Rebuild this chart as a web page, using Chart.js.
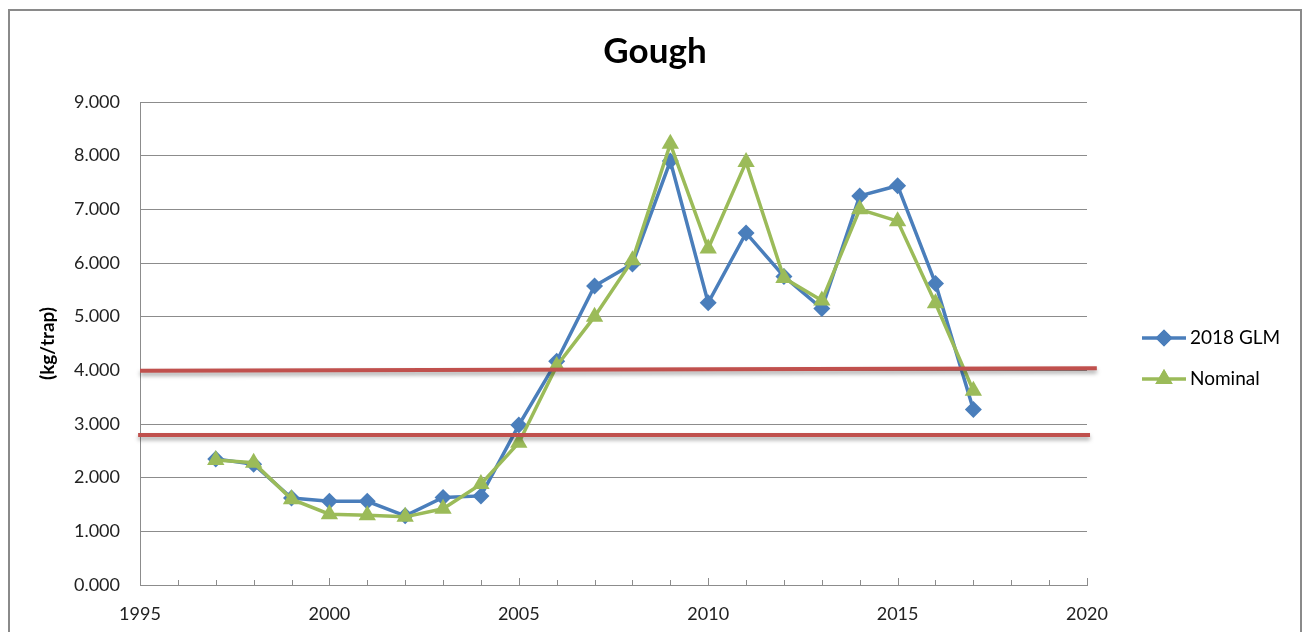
<!DOCTYPE html>
<html>
<head>
<meta charset="utf-8">
<title>Gough</title>
<script src="https://cdn.jsdelivr.net/npm/chart.js@4.4.0/dist/chart.umd.min.js"></script>
<style>
  html, body { margin: 0; padding: 0; background: #fff; }
  #wrap { width: 1309px; height: 632px; position: relative; }
</style>
</head>
<body>
<div id="wrap"><canvas id="chartGough" width="1309" height="632"></canvas></div>
<script>
/* ---- dados ---- */
const years = [1997, 1998, 1999, 2000, 2001, 2002, 2003, 2004, 2005, 2006, 2007,
  2008, 2009, 2010, 2011, 2012, 2013, 2014, 2015, 2016, 2017];
const glm = [2.35, 2.25, 1.62, 1.56, 1.56, 1.29, 1.63, 1.66, 2.98, 4.17, 5.57,
  5.98, 7.90, 5.26, 6.56, 5.75, 5.15, 7.25, 7.44, 5.62, 3.27];
const nominal = [2.33, 2.28, 1.60, 1.32, 1.30, 1.27, 1.42, 1.88, 2.65, 4.08, 5.00,
  6.05, 8.22, 6.27, 7.88, 5.72, 5.30, 7.00, 6.78, 5.25, 3.62];
const xTicks = [1995, 2000, 2005, 2010, 2015, 2020];
const yTicks = [0, 1, 2, 3, 4, 5, 6, 7, 8, 9];
// linhas de referência (desenhadas à mão no original)
const upperRefX = [1995, 2020.26];
const upperRefY = [3.99, 4.04];
const lowerRefX = [1994.95, 2020.08];
const lowerRefY = [2.795, 2.795];

const FONT = "Lato, 'Open Sans', sans-serif";
const GRID = "#8c8c8c";
const BLUE = "#4a7ebb";
const GREEN = "#9bbb59";
const RED = "#c0504d";

const toPoints = (xs, ys) => xs.map((x, i) => ({ x, y: ys[i] }));

// sombra nas linhas vermelhas
const shadowPlugin = {
  id: "shadow",
  beforeDatasetDraw(chart, args) {
    if (!args.meta._dataset.shadow) return;
    const ctx = chart.ctx;
    ctx.save();
    ctx.shadowColor = "rgba(0,0,0,0.35)";
    ctx.shadowBlur = 4;
    ctx.shadowOffsetY = 3;
  },
  afterDatasetDraw(chart, args) {
    if (!args.meta._dataset.shadow) return;
    chart.ctx.restore();
  },
};

// moldura, título, marcas do eixo x e legenda
const decorPlugin = {
  id: "decor",
  afterDraw(chart) {
    const ctx = chart.ctx;
    const xs = chart.scales.x;
    const bottom = chart.chartArea.bottom;
    ctx.save();

    // moldura externa
    ctx.strokeStyle = "#8a8a8a";
    ctx.lineWidth = 2;
    ctx.strokeRect(9, 10, 1292, 700);

    // título
    ctx.fillStyle = "#000";
    ctx.font = "bold 35px " + FONT;
    ctx.textAlign = "center";
    ctx.textBaseline = "middle";
    ctx.fillText("Gough", 655, 52);

    // marcas internas do eixo x (anos)
    ctx.strokeStyle = GRID;
    ctx.lineWidth = 1;
    for (let yr = 1995; yr <= 2020; yr++) {
      const px = Math.round(xs.getPixelForValue(yr)) + 0.5;
      const len = yr % 5 === 0 ? 7 : 5;
      ctx.beginPath();
      ctx.moveTo(px, bottom);
      ctx.lineTo(px, bottom - len);
      ctx.stroke();
    }

    // legenda
    const items = [
      { label: "2018 GLM", color: BLUE, style: "rectRot", r: 8.5, y: 338 },
      { label: "Nominal", color: GREEN, style: "triangle", r: 10, y: 379 },
    ];
    items.forEach((it) => {
      ctx.strokeStyle = it.color;
      ctx.lineWidth = 3.5;
      ctx.beginPath();
      ctx.moveTo(1142, it.y);
      ctx.lineTo(1186, it.y);
      ctx.stroke();
      ctx.fillStyle = it.color;
      Chart.helpers.drawPoint(ctx, { pointStyle: it.style, radius: it.r, rotation: 0, borderWidth: 0 }, 1164, it.y);
      ctx.fill();
      ctx.fillStyle = "#000";
      ctx.font = "19px " + FONT;
      ctx.textBaseline = "middle";
      ctx.textAlign = "left";
      ctx.fillText(it.label, 1190, it.y);
    });
    ctx.restore();
  },
};

new Chart(document.getElementById("chartGough"), {
  type: "line",
  data: {
    datasets: [
      {
        label: "upper",
        data: toPoints(upperRefX, upperRefY),
        borderColor: RED,
        borderWidth: 4,
        pointRadius: 0,
        clip: false,
        shadow: true,
        order: 0,
      },
      {
        label: "lower",
        data: toPoints(lowerRefX, lowerRefY),
        borderColor: RED,
        borderWidth: 4,
        pointRadius: 0,
        clip: false,
        shadow: true,
        order: 0,
      },
      {
        label: "Nominal",
        data: toPoints(years, nominal),
        borderColor: GREEN,
        backgroundColor: GREEN,
        borderWidth: 3.5,
        pointStyle: "triangle",
        pointRadius: 10,
        pointBorderWidth: 0,
        order: 1,
      },
      {
        label: "2018 GLM",
        data: toPoints(years, glm),
        borderColor: BLUE,
        backgroundColor: BLUE,
        borderWidth: 3.5,
        pointStyle: "rectRot",
        pointRadius: 8.5,
        pointBorderWidth: 0,
        order: 2,
      },
    ],
  },
  options: {
    responsive: false,
    animation: false,
    devicePixelRatio: 1,
    layout: { padding: { left: 0, right: 222, top: 102, bottom: 0 } },
    plugins: {
      legend: { display: false },
      tooltip: { enabled: false },
      title: { display: false },
    },
    scales: {
      x: {
        type: "linear",
        min: 1995,
        max: 2020,
        afterBuildTicks: (s) => { s.ticks = xTicks.map((v) => ({ value: v })); },
        afterFit: (s) => { s.height = 47; },
        grid: { display: false, drawTicks: false },
        border: { display: true, color: GRID, width: 1 },
        ticks: {
          color: "#222",
          padding: 18,
          maxRotation: 0,
          font: { family: FONT, size: 18 },
          callback: (v) => String(v),
        },
      },
      y: {
        min: 0,
        max: 9,
        afterBuildTicks: (s) => { s.ticks = yTicks.map((v) => ({ value: v })); },
        afterFit: (s) => { s.width = 140; },
        grid: { color: GRID, lineWidth: 1, drawTicks: false },
        border: { display: true, color: GRID, width: 1 },
        ticks: {
          color: "#222",
          padding: 20,
          font: { family: FONT, size: 18 },
          callback: (v) => v.toFixed(3),
        },
        title: {
          display: true,
          text: "(kg/trap)",
          color: "#000",
          font: { family: FONT, size: 19, weight: "bold" },
          padding: { top: 36, bottom: 0 },
        },
      },
    },
  },
  plugins: [shadowPlugin, decorPlugin],
});
</script>
</body>
</html>
